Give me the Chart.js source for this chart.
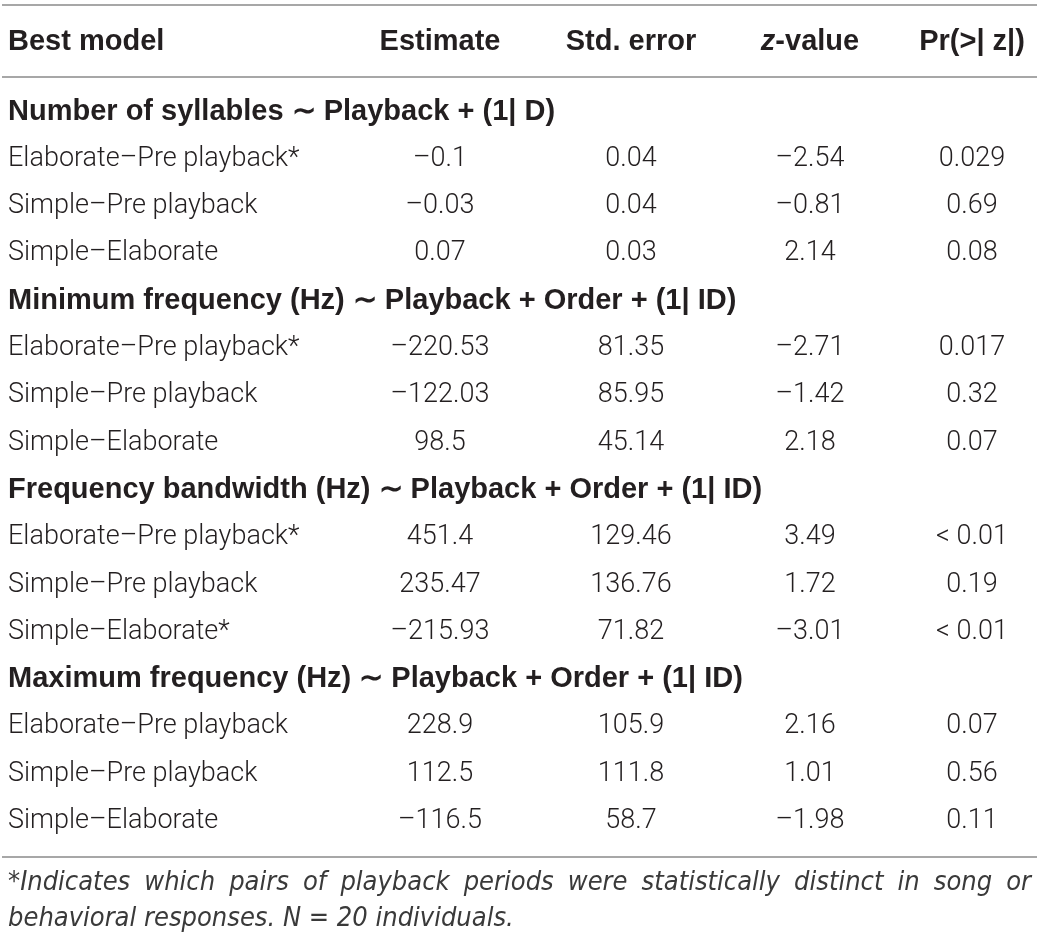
<!DOCTYPE html>
<html>
<head>
<meta charset="utf-8">
<title>Best model table</title>
<script src="https://cdn.jsdelivr.net/npm/chart.js@4.4.1/dist/chart.umd.min.js"></script>
<style>
    html, body { margin: 0; padding: 0; background: #ffffff; }
    #tableChart { display: block; }
</style>
</head>
<body>
<canvas id="tableChart" width="1041" height="944"></canvas>
<script>

    // Table data
    const columns = ['Best model', 'Estimate', 'Std. error', 'z-value', 'Pr(>| z|)'];
    const models = [
        'Number of syllables \u223C Playback + (1| D)',
        'Minimum frequency (Hz) \u223C Playback + Order + (1| ID)',
        'Frequency bandwidth (Hz) \u223C Playback + Order + (1| ID)',
        'Maximum frequency (Hz) \u223C Playback + Order + (1| ID)'
    ];
    const comparisons = [
        ['Elaborate\u2013Pre playback*', 'Simple\u2013Pre playback', 'Simple\u2013Elaborate'],
        ['Elaborate\u2013Pre playback*', 'Simple\u2013Pre playback', 'Simple\u2013Elaborate'],
        ['Elaborate\u2013Pre playback*', 'Simple\u2013Pre playback', 'Simple\u2013Elaborate*'],
        ['Elaborate\u2013Pre playback', 'Simple\u2013Pre playback', 'Simple\u2013Elaborate']
    ];
    const estimates = [
        [-0.1, -0.03, 0.07],
        [-220.53, -122.03, 98.5],
        [451.4, 235.47, -215.93],
        [228.9, 112.5, -116.5]
    ];
    const stdErrors = [
        [0.04, 0.04, 0.03],
        [81.35, 85.95, 45.14],
        [129.46, 136.76, 71.82],
        [105.9, 111.8, 58.7]
    ];
    const zValues = [
        [-2.54, -0.81, 2.14],
        [-2.71, -1.42, 2.18],
        [3.49, 1.72, -3.01],
        [2.16, 1.01, -1.98]
    ];
    const pValues = [
        ['0.029', '0.69', '0.08'],
        ['0.017', '0.32', '0.07'],
        ['< 0.01', '0.19', '< 0.01'],
        ['0.07', '0.56', '0.11']
    ];
    const footnote = [
        '*Indicates which pairs of playback periods were statistically distinct in song or',
        'behavioral responses. N = 20 individuals.'
    ];

    // Layout / styles
    const colX = [8, 440, 631, 810, 972];
    const textColor = '#231f20';
    const ruleColor = '#a7a7a7';
    const fonts = {
        head: 'bold 29px "Liberation Sans", Arial, sans-serif',
        headItalic: 'italic bold 29px "Liberation Sans", Arial, sans-serif',
        group: 'bold 29px "Liberation Sans", Arial, sans-serif',
        cell: '300 27px Roboto, "Liberation Sans", sans-serif',
        note: 'italic 300 27px "Liberation Sans Narrow", "DejaVu Sans Condensed", Roboto, sans-serif'
    };

    function fmt(v) {
        return (v < 0 ? '\u2013' : '') + String(Math.abs(v));
    }

    // Build rows and cells
    const rowKeys = [];
    const cells = [];
    models.forEach(function(model, g) {
        rowKeys.push(model);
        cells.push({ x: colX[0], y: model, text: model, font: 'group', align: 'left' });
        comparisons[g].forEach(function(comp, i) {
            const key = model + ' / ' + comp;
            rowKeys.push(key);
            cells.push({ x: colX[0], y: key, text: comp, font: 'cell', align: 'left' });
            cells.push({ x: colX[1], y: key, text: fmt(estimates[g][i]), font: 'cell', align: 'center' });
            cells.push({ x: colX[2], y: key, text: fmt(stdErrors[g][i]), font: 'cell', align: 'center' });
            cells.push({ x: colX[3], y: key, text: fmt(zValues[g][i]), font: 'cell', align: 'center' });
            cells.push({ x: colX[4], y: key, text: pValues[g][i], font: 'cell', align: 'center' });
        });
    });

    // Plugin drawing the table text
    const tableText = {
        id: 'tableText',
        afterDatasetsDraw: function(chart) {
            const c = chart.ctx;
            const area = chart.chartArea;
            const xs = chart.scales.x;
            const W = chart.width;
            c.save();
            c.fillStyle = textColor;
            c.textBaseline = 'middle';

            // Rules
            c.strokeStyle = ruleColor;
            c.lineWidth = 2;
            [area.top - 83, area.top - 11, area.bottom + 12].forEach(function(y) {
                c.beginPath();
                c.moveTo(2, y);
                c.lineTo(W - 4, y);
                c.stroke();
            });

            // Header
            const hy = area.top - 46;
            columns.forEach(function(label, i) {
                const x = xs.getPixelForValue(colX[i]);
                if (label === 'z-value') {
                    c.font = fonts.headItalic;
                    const w1 = c.measureText('z').width;
                    c.font = fonts.head;
                    const w2 = c.measureText('-value').width;
                    const x0 = x - (w1 + w2) / 2;
                    c.textAlign = 'left';
                    c.font = fonts.headItalic;
                    c.fillText('z', x0, hy);
                    c.font = fonts.head;
                    c.fillText('-value', x0 + w1, hy);
                } else {
                    c.font = fonts.head;
                    c.textAlign = i === 0 ? 'left' : 'center';
                    c.fillText(label, x, hy);
                }
            });

            // Cells
            const meta = chart.getDatasetMeta(0);
            meta.data.forEach(function(el, i) {
                const cell = chart.data.datasets[0].data[i];
                c.font = fonts[cell.font];
                c.textAlign = cell.align;
                c.fillText(cell.text, el.x, el.y);
            });

            // Footnote, first line justified
            c.font = fonts.note;
            c.fillStyle = '#3a3a3a';
            c.textAlign = 'left';
            const left = 8, right = W - 10;
            footnote.forEach(function(line, n) {
                const y = area.bottom + 38 + n * 36;
                const words = line.split(' ');
                const widths = words.map(function(w) { return c.measureText(w).width; });
                const sum = widths.reduce(function(a, b) { return a + b; }, 0);
                const gap = n === 0 ? (right - left - sum) / (words.length - 1) : c.measureText(' ').width;
                let x = left;
                words.forEach(function(w, k) {
                    c.fillText(w, x, y);
                    x += widths[k] + gap;
                });
            });
            c.restore();
        }
    };

    const ctx = document.getElementById('tableChart').getContext('2d');
    const tableChart = new Chart(ctx, {
        type: 'scatter',
        data: {
            datasets: [{
                label: 'cells',
                data: cells,
                pointRadius: 0,
                pointHoverRadius: 0
            }]
        },
        options: {
            responsive: false,
            animation: false,
            events: [],
            layout: { padding: { top: 88, bottom: 99, left: 0, right: 0 } },
            plugins: {
                legend: { display: false },
                tooltip: { enabled: false }
            },
            scales: {
                x: { type: 'linear', min: 0, max: 1041, display: false },
                y: { type: 'category', labels: rowKeys, offset: true, display: false }
            }
        },
        plugins: [tableText]
    });
</script>
</body>
</html>
